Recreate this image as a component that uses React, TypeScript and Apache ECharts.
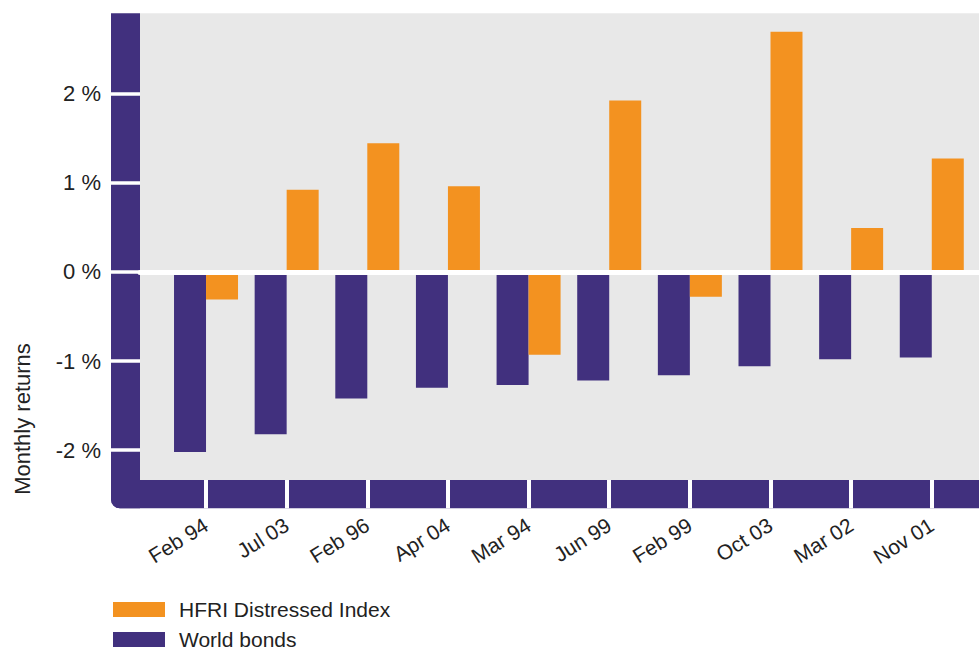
import React, { useEffect, useRef } from "react";
import * as echarts from "echarts";

const categories = ["Feb 94", "Jul 03", "Feb 96", "Apr 04", "Mar 94", "Jun 99", "Feb 99", "Oct 03", "Mar 02", "Nov 01"];
const worldBonds = [-2.02, -1.82, -1.42, -1.3, -1.27, -1.22, -1.16, -1.06, -0.98, -0.96];
const hfriDistressed = [-0.31, 0.92, 1.44, 0.96, -0.93, 1.92, -0.28, 2.69, 0.49, 1.27];
const seriesNames = ["World bonds", "HFRI Distressed Index"];
const legendOrder = ["HFRI Distressed Index", "World bonds"];
const yAxisTitle = "Monthly returns";

const PURPLE = "#41307e";
const ORANGE = "#f39220";
const GRAY = "#e8e8e8";
const TEXT = "#222222";
const FONT = "'Liberation Sans', Arial, sans-serif";

export default function App() {
  const ref = useRef<HTMLDivElement>(null);
  useEffect(() => {
    if (!ref.current) return;
    const chart = echarts.init(ref.current, undefined, { renderer: "svg" });
    const legendBase = {
      orient: "vertical",
      left: 108,
      itemWidth: 52,
      itemHeight: 15,
      icon: "rect",
      selectedMode: false,
      textStyle: { fontSize: 21, lineHeight: 16, color: TEXT, fontFamily: FONT, padding: [0, 0, 0, 9] },
    };
    chart.setOption({
      animation: false,
      textStyle: { fontFamily: FONT },
      grid: [
        { left: 165.7, right: 6.9, top: 4.2, bottom: 111.6 },
        { left: 140, right: 0, top: 13.3, bottom: 171, show: true, backgroundColor: GRAY, borderWidth: 0 },
        { left: 165.7, right: 6.9, top: 13.3, bottom: 171 },
      ],
      xAxis: [
        { gridIndex: 0, type: "category", data: categories, show: false },
        {
          gridIndex: 1, type: "value", min: 0, max: 1, z: 5,
          axisLine: { show: true, onZero: true, lineStyle: { color: "#ffffff", width: 5 } },
          axisTick: { show: false }, axisLabel: { show: false }, splitLine: { show: false },
        },
        {
          gridIndex: 2, type: "category", data: categories, position: "bottom", z: 10,
          axisLine: { show: false, onZero: false },
          axisTick: { show: true, alignWithLabel: true, length: 28.3, lineStyle: { color: "#ffffff", width: 4 } },
          axisLabel: { interval: 0, rotate: 32, margin: 43, fontSize: 21, color: TEXT, fontFamily: FONT },
          splitLine: { show: false },
        },
      ],
      yAxis: [
        {
          gridIndex: 0, type: "value", min: -3, max: 3, interval: 1, position: "left", offset: 25.7, z: 10,
          axisLine: { show: false },
          axisTick: { show: true, length: 29, lineStyle: { color: "#ffffff", width: 3.5 } },
          axisLabel: {
            margin: 39, fontSize: 22, color: TEXT, fontFamily: FONT,
            formatter: (v: number) => (Math.abs(v) > 2.5 ? "" : `${v} %`),
          },
          splitLine: { show: false },
        },
        { gridIndex: 1, type: "value", min: -2.334, max: 2.898, show: false, splitLine: { show: false } },
        { gridIndex: 2, type: "value", min: 0, max: 1, show: false, splitLine: { show: false } },
      ],
      legend: [
        { ...legendBase, data: [legendOrder[0]], top: 594 },
        { ...legendBase, data: [legendOrder[1]], top: 624 },
      ],
      graphic: [
        {
          type: "rect", z: 1, silent: true,
          shape: { x: 111, y: 13.3, width: 29, height: 495, r: [0, 0, 0, 9] },
          style: { fill: PURPLE },
        },
        {
          type: "rect", z: 1, silent: true,
          shape: { x: 111, y: 480, width: 868, height: 28.3, r: [0, 0, 0, 9] },
          style: { fill: PURPLE },
        },
        {
          type: "text", x: 22.5, y: 419, rotation: Math.PI / 2, silent: true,
          style: { text: yAxisTitle, fontSize: 22, fill: TEXT, align: "center", verticalAlign: "middle", fontFamily: FONT },
        },
      ],
      series: [
        {
          name: seriesNames[0], type: "bar", xAxisIndex: 0, yAxisIndex: 0, data: worldBonds,
          barWidth: 32, barGap: "0%", itemStyle: { color: PURPLE },
        },
        {
          name: seriesNames[1], type: "bar", xAxisIndex: 0, yAxisIndex: 0, data: hfriDistressed,
          barWidth: 32, barGap: "0%", itemStyle: { color: ORANGE },
        },
      ],
    });
    return () => chart.dispose();
  }, []);
  return <div ref={ref} style={{ position: "absolute", left: 0, top: 0, width: 979, height: 651 }} />;
}
